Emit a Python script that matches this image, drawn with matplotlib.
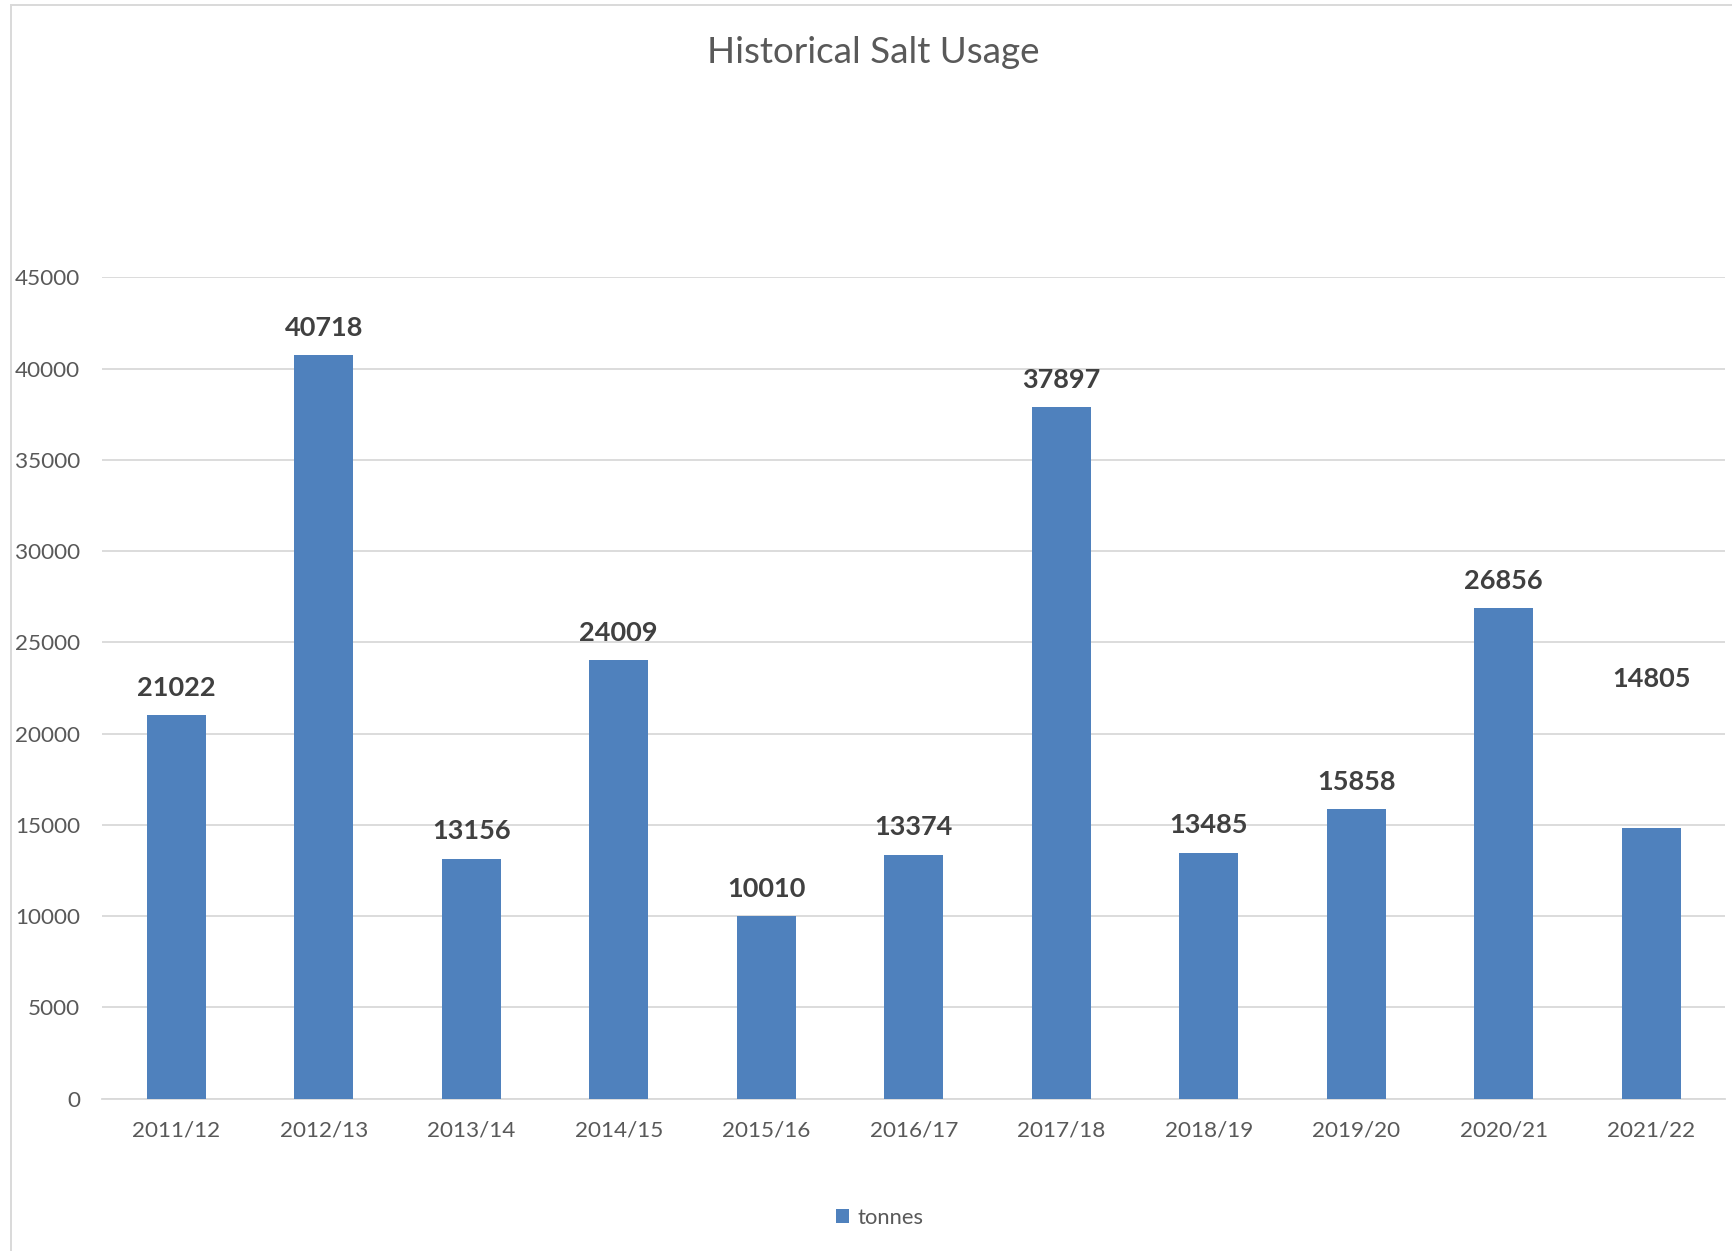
import matplotlib
matplotlib.use("Agg")
import matplotlib.pyplot as plt
from matplotlib.patches import Rectangle, Patch

categories = ["2011/12", "2012/13", "2013/14", "2014/15", "2015/16", "2016/17",
              "2017/18", "2018/19", "2019/20", "2020/21", "2021/22"]
tonnes = [21022, 40718, 13156, 24009, 10010, 13374, 37897, 13485, 15858, 26856, 14805]
# extra vertical offset (points) of each data label above its bar
label_extra = [0, 0, 0, 0, 0, 0, 0, 0, 0, 0, 88]
yticks = [0, 5000, 10000, 15000, 20000, 25000, 30000, 35000, 40000, 45000]

plt.rcParams['font.family'] = ['Lato', 'DejaVu Sans']

fig = plt.figure(figsize=(17.33, 12.51), dpi=100)
ax = fig.add_axes([0.0591, 0.1218, 0.9363, 0.6565])

bar_color = "#4F81BD"
grid_color = "#D9D9D9"
text_color = "#595959"

x = list(range(len(categories)))
bars = ax.bar(x, tonnes, width=0.4, color=bar_color, zorder=3)

for xi, v, extra in zip(x, tonnes, label_extra):
    ax.annotate(str(v), xy=(xi, v), xytext=(0, 19.5 + extra), textcoords="offset points",
                ha="center", va="center", fontsize=19.5, fontweight="bold",
                color="#404040", zorder=4)

ax.set_xlim(-0.5, len(categories) - 0.5)
ax.set_ylim(0, 45000)
ax.set_yticks(yticks)
ax.set_yticklabels([str(t) for t in yticks])
ax.set_xticks(x)
ax.set_xticklabels(categories)
ax.tick_params(axis="both", length=0, labelsize=16.2, labelcolor=text_color)
ax.tick_params(axis="y", pad=16)
ax.tick_params(axis="x", pad=16)
ax.yaxis.grid(True, color=grid_color, linewidth=1.3, zorder=0)
ax.set_axisbelow(True)
for s in ["top", "right", "left"]:
    ax.spines[s].set_visible(False)
ax.spines["bottom"].set_color(grid_color)
ax.spines["bottom"].set_linewidth(1.3)

fig.text(0.5037, 0.958, "Historical Salt Usage", ha="center", va="center",
         fontsize=26.5, color=text_color)

leg = fig.legend(handles=[Patch(facecolor=bar_color, label="tonnes")],
                 loc="center", bbox_to_anchor=(0.5075, 0.0265), frameon=False,
                 fontsize=15.8, handlelength=0.6, handleheight=0.6,
                 handletextpad=0.4, labelcolor=text_color)

# chart area border (right and bottom edges fall outside the picture)
fig.patches.append(Rectangle((0.0061, -0.05), 1.1, 1.046, transform=fig.transFigure,
                             fill=False, edgecolor=grid_color, linewidth=1.4))

fig.savefig("out.png", dpi=100)
